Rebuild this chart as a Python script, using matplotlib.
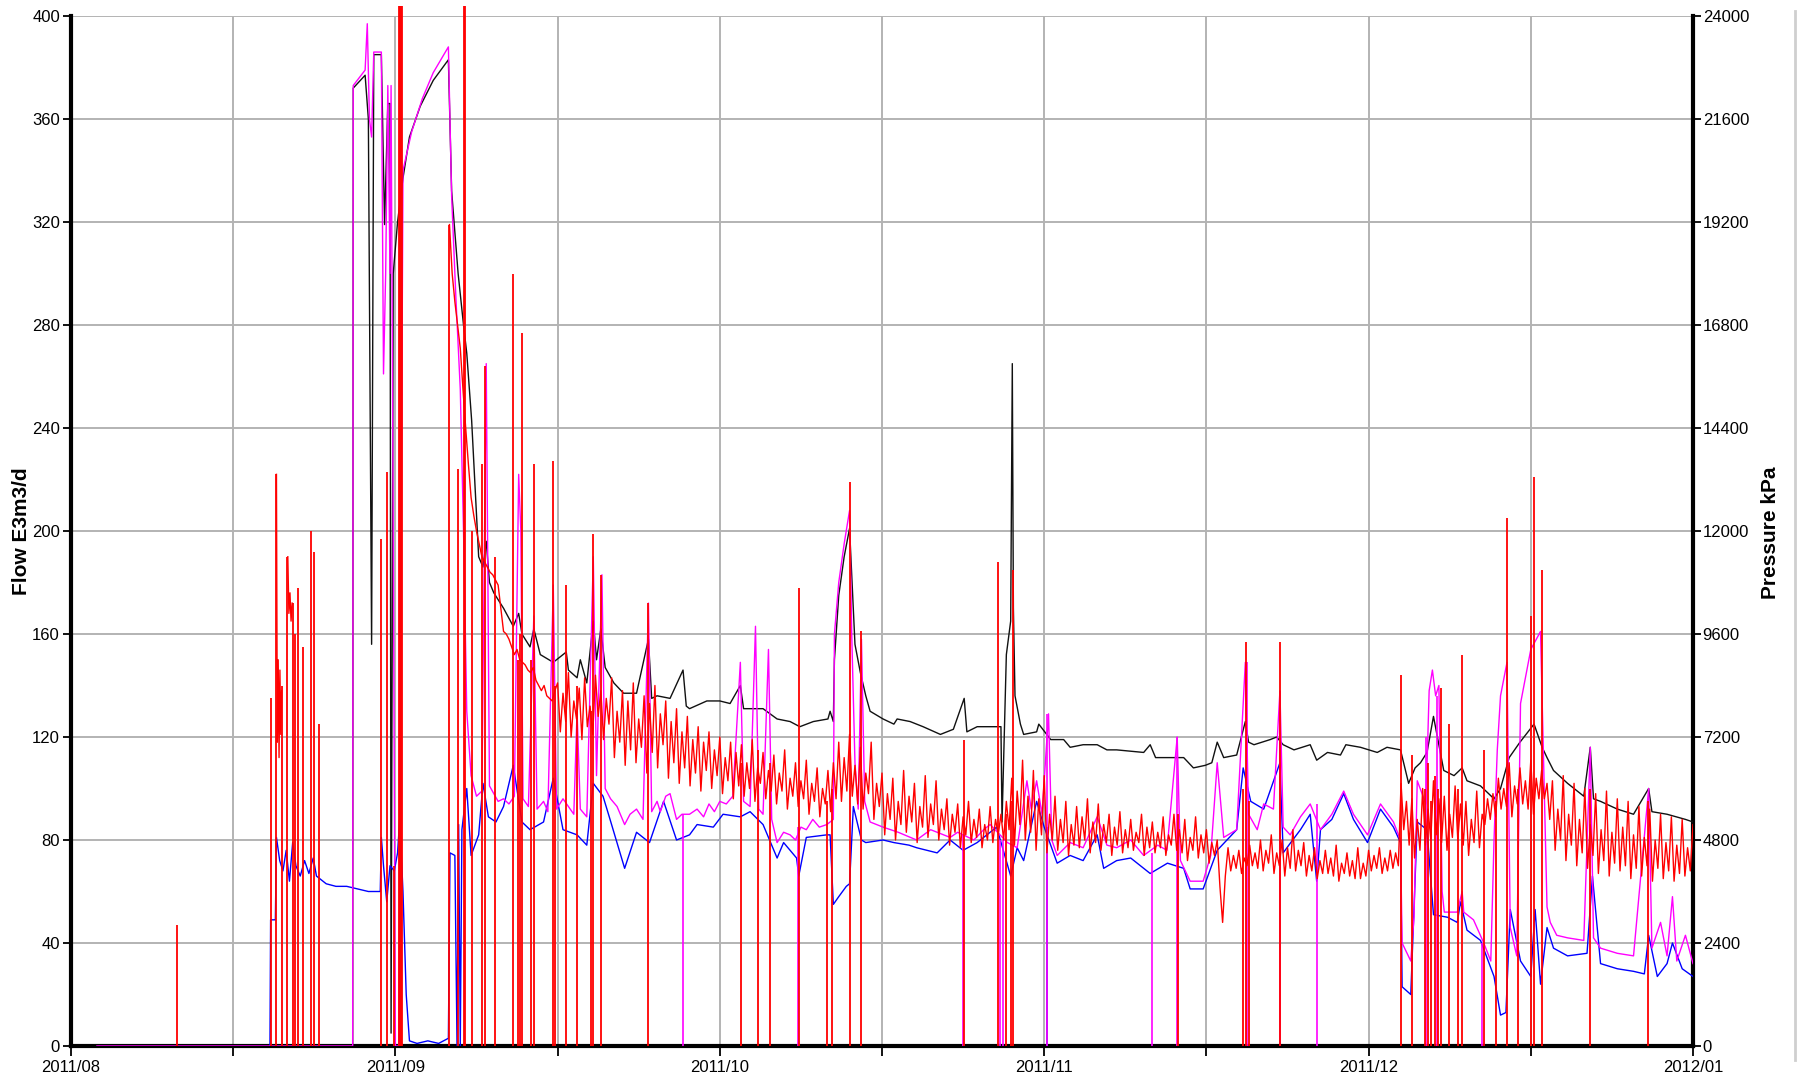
"""Well test history: flow rates (left axis) and pressure (right axis), Aug 2011 - Jan 2012."""

import matplotlib
matplotlib.use("Agg")
import matplotlib.pyplot as plt
from matplotlib.lines import Line2D
import numpy as np

plt.rcParams["font.family"] = ["Liberation Sans", "DejaVu Sans"]

# x axis: days from 2011/08/01, charting tool spaces every month as 30 days
MONTH_TICKS = [0, 30, 60, 90, 120, 150]
MONTH_LABELS = ["2011/08", "2011/09", "2011/10", "2011/11", "2011/12", "2012/01"]
HALF_MONTH_TICKS = [15, 45, 75, 105, 135]

FLOW_TICKS = list(range(0, 401, 40))
PRESSURE_TICKS = list(range(0, 24001, 2400))

# red flow: short bursts before the well came on, then the main record sampled every 6 hours
RED_BURST_X = [19.0, 19.08, 19.16, 19.24, 19.32, 19.4, 19.48, None, 20.05, 20.15, 20.25, 20.35, 20.45]
RED_BURST_Y = [222, 118, 150, 112, 146, 121, 138, None, 190, 168, 176, 165, 172]

RED_START_DAY = 35.0
RED_STEP_DAY = 0.25
RED_FLOW = [
    319, 300, 289, 280, 271, 255, 240, 226, 213, 206, 200, 195, 190, 188, 186, 184, 183, 181, 179, 170,
    161, 160, 158, 155, 152, 154, 150, 149, 148, 146, 145, 147, 142, 140, 138, 140, 136, 135, 134, 138,
    141, 122, 137, 126, 145, 120, 134, 127, 139, 119, 143, 124, 132, 121, 144, 128, 138, 119, 135, 125,
    143, 112, 130, 118, 138, 109, 134, 115, 141, 110, 127, 116, 136, 106, 133, 114, 140, 108, 129, 117,
    134, 104, 126, 110, 131, 102, 122, 108, 128, 101, 119, 106, 124, 99, 118, 107, 122, 100, 115, 105,
    120, 98, 112, 103, 118, 96, 114, 101, 117, 97, 110, 100, 119, 95, 108, 102, 114, 96, 107, 99,
    113, 94, 106, 99, 115, 92, 104, 97, 110, 93, 103, 96, 111, 90, 102, 95, 108, 89, 100, 94,
    107, 91, 110, 96, 118, 95, 112, 99, 121, 97, 109, 94, 116, 92, 106, 98, 118, 88, 102, 93,
    106, 82, 98, 88, 104, 80, 95, 86, 107, 83, 97, 87, 102, 79, 93, 85, 105, 81, 94, 86,
    103, 80, 92, 84, 96, 78, 90, 83, 94, 77, 89, 82, 95, 79, 88, 81, 92, 77, 86, 80,
    93, 79, 88, 82, 90, 80, 95, 84, 104, 78, 99, 86, 111, 80, 97, 83, 107, 76, 96, 82,
    105, 75, 90, 80, 97, 76, 88, 79, 95, 74, 86, 78, 93, 77, 89, 80, 96, 75, 87, 79,
    94, 76, 86, 79, 90, 74, 85, 78, 91, 75, 84, 77, 88, 76, 83, 79, 90, 74, 85, 77,
    87, 75, 83, 77, 89, 74, 82, 78, 90, 76, 84, 75, 88, 72, 81, 76, 89, 73, 82, 75,
    84, 71, 79, 74, 80, 62, 48, 66, 77, 68, 74, 69, 76, 67, 73, 70, 78, 70, 75, 69,
    80, 68, 76, 71, 82, 67, 75, 70, 80, 66, 77, 69, 84, 68, 76, 70, 79, 66, 74, 68,
    77, 65, 72, 67, 76, 67, 73, 66, 78, 64, 71, 67, 75, 66, 72, 65, 77, 65, 71, 66,
    76, 68, 74, 69, 77, 67, 73, 68, 76, 69, 75, 70, 102, 84, 95, 78, 96, 73, 88, 76,
    100, 78, 92, 80, 103, 82, 96, 79, 97, 76, 90, 81, 101, 80, 94, 78, 95, 74, 88, 79,
    99, 77, 90, 86, 96, 88, 98, 89, 104, 92, 100, 93, 110, 89, 101, 94, 108, 94, 103, 92,
    111, 90, 104, 96, 107, 96, 102, 88, 103, 76, 92, 80, 105, 72, 90, 78, 102, 70, 88, 75,
    100, 69, 86, 74, 98, 67, 84, 72, 99, 66, 83, 71, 96, 68, 85, 70, 95, 65, 82, 69,
    93, 66, 81, 70, 92, 64, 80, 69, 90, 65, 79, 68, 89, 64, 78, 67, 88, 66, 77, 68,
    86,
]

# red shut-ins / surges: the trace drops to zero and comes back to this value
RED_SPIKE_DAY = [
    9.8, 18.5, 19.0, 19.5, 20.0, 20.5, 20.7, 21.0, 21.5, 22.2, 22.5, 22.9,
    28.7, 29.2, 29.9, 30.3, 30.4, 30.5, 30.6,
    35.0, 35.8, 36.3, 36.4, 37.1, 38.0, 38.3, 39.2, 40.9, 41.3, 41.5, 41.7,
    42.5, 42.8, 44.6, 44.8, 45.8, 46.8, 48.1, 48.3, 49.0, 53.4,
    62.0, 63.5, 64.6, 67.3, 69.9, 70.4, 72.0, 73.1,
    82.6, 85.7, 86.5, 86.9, 87.1, 102.4, 108.4, 108.7, 108.9, 111.8,
    123.0, 124.0, 125.2, 125.5, 125.8, 126.1, 126.4, 126.7, 127.4, 128.3, 128.65,
    130.65, 131.8, 132.8, 133.8, 135.0, 135.3, 136.0, 140.5, 145.8,
]
RED_SPIKE_TOP = [
    47, 135, 222, 140, 190, 172, 160, 178, 155, 200, 192, 125,
    197, 223, 70, 404, 404, 404, 404,
    319, 224, 404, 404, 200, 226, 264, 190, 300, 150, 160, 277,
    150, 226, 227, 140, 179, 140, 130, 199, 183, 172,
    110, 115, 110, 178, 95, 100, 219, 161,
    119, 188, 90, 95, 185, 90, 100, 157, 95, 157,
    144, 113, 100, 110, 95, 105, 100, 139, 125, 100, 152,
    115, 95, 205, 100, 167, 221, 185, 100, 95,
]

MAGENTA_X = [
    2.4, 26.05, 26.1, 27.2, 27.4, 27.6, 27.8, 28.0, 28.7, 28.9, 29.1, 29.3, 29.5, 29.6, 29.8,
    30.0, 30.3, 30.7, 31.5, 32.5, 33.5, 34.9, 35.2, 35.6, 36.0, 36.3, 36.6, 37.0, 37.5, 38.0,
    38.4, 38.7, 39.5, 40.0, 40.5, 41.0, 41.4, 41.6, 41.8, 42.3, 42.8, 43.1, 43.7, 44.1, 44.6,
    44.9, 45.5, 46.0, 46.5, 46.8, 47.1, 47.7, 48.3, 48.6, 49.1, 49.4, 49.9, 50.5, 51.2, 51.7,
    52.3, 52.9, 53.4, 53.7, 54.2, 54.5, 55.0, 55.4, 56.0, 56.5, 57.2, 57.9, 58.5, 59.0, 59.5,
    60.0, 60.6, 61.2, 61.9, 62.2, 62.8, 63.3, 63.6, 64.0, 64.5, 64.8, 65.3, 65.9, 66.5, 67.0,
    67.5, 68.0, 68.6, 69.2, 69.9, 70.5, 70.6, 71.0, 71.5, 72.0, 72.2, 72.5, 72.8, 73.1, 73.4,
    73.9, 75.1, 76.5, 78.2, 79.5, 81.3, 82.0, 83.5, 84.4, 85.0, 86.6, 87.5, 88.4, 88.8, 89.3,
    89.8, 90.4, 90.7, 91.2, 92.4, 93.6, 94.9, 95.8, 96.7, 98.0, 99.2, 100.5, 101.35, 102.3, 102.6,
    103.5, 104.7, 105.4, 106.0, 106.6, 107.8, 108.6, 108.9, 109.7, 110.3, 111.2, 111.8, 112.1, 112.75, 113.7,
    114.6, 115.55, 116.6, 117.7, 118.6, 119.9, 121.1, 122.3, 122.95, 123.1, 123.9, 124.2, 124.5, 125.3, 125.6,
    125.9, 126.2, 126.5, 126.8, 127.0, 128.2, 128.65, 128.8, 129.7, 130.65, 131.3, 131.6, 131.9, 132.2, 132.8,
    133.1, 133.7, 134.05, 135.0, 135.9, 136.5, 136.8, 137.4, 138.4, 139.9, 140.5, 140.8, 141.45, 143.0, 144.5,
    145.9, 146.2, 147.0, 147.6, 148.1, 148.5, 149.3, 150.0,
]
MAGENTA_Y = [
    0, 0, 373, 379, 397, 360, 353, 386, 386, 261, 300, 373, 300, 373, 200,
    0, 0, 340, 355, 368, 378, 388, 330, 290, 255, 200, 130, 105, 97, 99,
    265, 101, 95, 96, 94, 97, 222, 200, 96, 93, 167, 92, 95, 91, 179,
    92, 96, 93, 90, 130, 92, 89, 190, 105, 183, 100, 96, 93, 86, 90,
    92, 88, 172, 91, 95, 91, 97, 98, 88, 90, 90, 92, 89, 94, 91,
    95, 94, 97, 149, 95, 93, 163, 92, 90, 154, 88, 79, 83, 82, 80,
    85, 84, 88, 85, 86, 88, 160, 180, 195, 208, 160, 110, 92, 158, 95,
    87, 85, 83, 80, 84, 81, 83, 80, 84, 86, 79, 77, 103, 92, 103,
    90, 129, 80, 74, 79, 77, 89, 78, 77, 80, 74, 78, 76, 120, 72,
    64, 64, 74, 110, 81, 84, 149, 90, 84, 94, 92, 138, 85, 82, 89,
    94, 84, 90, 99, 90, 82, 94, 87, 80, 40, 33, 50, 103, 94, 138,
    146, 136, 140, 60, 52, 52, 60, 52, 49, 40, 33, 80, 115, 136, 149,
    46, 35, 133, 154, 161, 54, 48, 43, 42, 41, 116, 42, 38, 36, 35,
    100, 38, 48, 35, 58, 33, 43, 32,
]
MAGENTA_DROP_DAY = [56.6, 67.25, 82.5, 85.9, 86.2, 90.25, 99.96, 102.3, 108.75, 111.8, 115.2, 125.3, 126.3, 130.5]
MAGENTA_DROP_TOP = [90, 85, 82, 80, 80, 129, 75, 120, 149, 138, 94, 120, 136, 40]

BLUE_X = [
    18.4, 18.46, 18.9, 19.0, 19.3, 19.6, 19.9, 20.2, 20.5, 20.8, 21.2, 21.6, 22.0, 22.4, 22.7,
    23.0, 23.6, 24.5, 25.5, 26.5, 27.5, 28.6, 28.7, 28.9, 29.2, 29.5, 29.9, 30.2, 30.4, 30.7,
    31.0, 31.3, 32.0, 33.0, 34.0, 34.9, 35.05, 35.5, 35.7, 35.85, 36.0, 36.15, 36.6, 37.0, 37.7,
    38.1, 38.6, 39.3, 40.0, 40.9, 41.7, 42.45, 43.7, 44.6, 45.5, 46.8, 47.7, 48.3, 49.2, 49.85,
    51.2, 52.3, 53.5, 54.8, 56.0, 57.2, 57.9, 59.4, 60.3, 61.9, 62.8, 64.0, 65.3, 65.9, 67.1,
    67.3, 68.0, 69.9, 70.2, 70.5, 71.0, 71.7, 72.0, 72.35, 73.1, 73.5, 75.1, 76.1, 77.5, 78.2,
    80.1, 81.3, 82.5, 83.8, 85.6, 86.9, 87.5, 88.1, 89.3, 90.0, 91.2, 92.4, 93.6, 94.9, 95.5,
    96.7, 98.0, 99.8, 101.4, 102.9, 103.5, 104.7, 106.0, 107.8, 108.4, 109.1, 110.3, 111.8, 112.1, 112.8,
    113.7, 114.6, 115.2, 115.55, 116.6, 117.7, 118.6, 119.9, 121.1, 122.3, 122.95, 123.1, 123.9, 124.2, 124.5,
    125.4, 126.0, 127.3, 128.2, 128.5, 129.1, 130.35, 131.6, 132.2, 132.7, 133.1, 134.05, 135.0, 135.4, 135.9,
    136.5, 137.1, 138.4, 140.2, 140.7, 141.45, 143.0, 144.5, 145.5, 145.9, 146.7, 147.6, 148.1, 149.0, 150.0,
]
BLUE_Y = [
    0, 49, 49, 81, 72, 68, 76, 64, 79, 70, 66, 72, 67, 73, 66,
    65, 63, 62, 62, 61, 60, 60, 81, 70, 56, 70, 68, 75, 88, 60,
    20, 2, 1, 2, 1, 3, 75, 74, 0, 86, 0, 84, 100, 74, 82,
    102, 89, 87, 93, 109, 87, 84, 87, 104, 84, 82, 78, 102, 97, 88,
    69, 83, 79, 95, 80, 82, 86, 85, 90, 89, 91, 86, 73, 79, 73,
    66, 81, 82, 82, 55, 58, 62, 63, 93, 80, 79, 80, 79, 78, 77,
    75, 80, 76, 79, 85, 66, 77, 72, 95, 85, 71, 74, 72, 82, 69,
    72, 73, 67, 71, 69, 61, 61, 76, 84, 108, 95, 92, 110, 75, 79,
    84, 90, 64, 84, 88, 98, 88, 79, 92, 85, 79, 23, 20, 54, 87,
    84, 51, 50, 48, 56, 45, 41, 27, 12, 13, 53, 33, 27, 53, 24,
    46, 38, 35, 36, 66, 32, 30, 29, 28, 43, 27, 32, 40, 30, 27,
]
BLUE_DROP_DAY = [90.3]
BLUE_DROP_TOP = [85]

# pressure in kPa (right axis)
PRESSURE_X = [
    26.05, 26.1, 27.2, 27.5, 27.8, 28.0, 28.7, 29.0, 29.3, 29.5, 29.6, 29.8, 30.2, 30.7, 31.3,
    32.3, 33.5, 34.9, 35.2, 35.8, 36.3, 36.6, 37.05, 37.7, 38.1, 38.4, 38.7, 39.1, 40.0, 40.9,
    41.4, 41.7, 42.45, 42.8, 43.4, 44.6, 45.8, 46.0, 46.8, 47.1, 47.7, 48.3, 48.6, 49.0, 49.4,
    50.2, 51.1, 52.3, 53.4, 53.7, 54.2, 55.4, 56.6, 56.9, 57.2, 58.8, 60.0, 60.95, 61.9, 62.2,
    62.8, 64.0, 65.3, 66.5, 67.4, 68.65, 70.0, 70.2, 70.5, 70.6, 71.0, 71.5, 72.0, 72.35, 72.5,
    73.0, 73.5, 73.9, 75.1, 76.1, 76.4, 77.6, 78.8, 80.4, 81.6, 82.6, 82.85, 83.8, 85.6, 86.0,
    86.1, 86.5, 86.9, 87.05, 87.15, 87.3, 87.8, 88.1, 89.3, 89.5, 90.6, 91.8, 92.4, 93.6, 94.9,
    95.8, 96.7, 99.2, 99.8, 100.3, 102.9, 103.8, 104.9, 105.5, 106.0, 106.6, 107.8, 108.6, 108.9, 109.4,
    110.9, 111.5, 112.1, 113.1, 114.6, 115.2, 116.2, 117.4, 117.9, 119.25, 120.8, 121.7, 122.95, 123.7, 124.3,
    124.8, 125.4, 126.0, 126.95, 127.9, 128.65, 129.1, 130.35, 131.6, 132.2, 133.0, 134.0, 135.3, 136.05, 136.5,
    137.1, 138.4, 139.9, 140.5, 140.8, 141.45, 143.0, 144.5, 145.9, 146.2, 147.6, 149.3, 150.0,
]
PRESSURE_KPA = [
    0, 22320, 22620, 21600, 9360, 23100, 23100, 19140, 21960, 21960, 300, 18000, 19200, 20220, 21180,
    21900, 22500, 22980, 19920, 18000, 16800, 16140, 14580, 11400, 11160, 11760, 10800, 10560, 10200, 9780,
    10080, 9600, 9300, 9720, 9120, 8940, 9180, 8760, 8580, 9000, 8460, 9900, 9000, 9720, 8820,
    8460, 8220, 8220, 9480, 8100, 8160, 8100, 8760, 7920, 7860, 8040, 8040, 7980, 8400, 7860,
    7860, 7860, 7620, 7560, 7440, 7560, 7620, 7800, 7560, 9000, 10500, 11400, 12060, 10200, 9360,
    8700, 8160, 7800, 7620, 7500, 7620, 7560, 7440, 7260, 7380, 8100, 7320, 7440, 7440, 7440,
    5220, 9120, 9900, 15900, 10200, 8160, 7500, 7260, 7320, 7500, 7140, 7140, 6960, 7020, 7020,
    6900, 6900, 6840, 7020, 6720, 6720, 6480, 6540, 6600, 7080, 6720, 6780, 7560, 7080, 7020,
    7140, 7200, 7020, 6900, 7020, 6660, 6840, 6780, 7020, 6960, 6840, 6960, 6900, 6120, 6480,
    6600, 6840, 7680, 6420, 6300, 6480, 6180, 6060, 5760, 6000, 6720, 7080, 7500, 6960, 6720,
    6420, 6120, 5820, 6960, 5760, 5700, 5520, 5400, 6000, 5460, 5400, 5280, 5220,
]

GRID_COLOR = "#b3b3b3"
LINE_W = 1.0


def as_float(values):
    return np.array([np.nan if v is None else v for v in values], dtype=float)


def main():
    fig = plt.figure(figsize=(17.98, 10.82), dpi=100)
    ax = fig.add_axes([71 / 1798, 1 - 1046 / 1082, (1693 - 71) / 1798, (1046 - 16) / 1082])
    ax2 = ax.twinx()

    # pressure axis underneath so the flow traces sit on top of it
    ax2.set_zorder(ax.get_zorder() - 1)
    ax.patch.set_visible(False)

    ax2.xaxis.set_visible(True)
    ax2.set_xlim(0, 150)
    ax2.set_ylim(0, 24000)
    ax2.set_yticks(PRESSURE_TICKS)
    ax2.set_xticks(MONTH_TICKS)
    ax2.set_xticks(HALF_MONTH_TICKS, minor=True)
    ax2.grid(True, which="both", color=GRID_COLOR, linewidth=1.4)
    ax2.set_axisbelow(True)
    ax2.plot(PRESSURE_X, PRESSURE_KPA, color="#111111", linewidth=LINE_W, zorder=3)

    red_x = RED_START_DAY + RED_STEP_DAY * np.arange(len(RED_FLOW))
    ax.plot(BLUE_X, BLUE_Y, color="#0000ff", linewidth=LINE_W, zorder=3)
    ax.vlines(BLUE_DROP_DAY, 0, BLUE_DROP_TOP, color="#0000ff", linewidth=1.2, zorder=3)
    ax.plot(MAGENTA_X, MAGENTA_Y, color="#ff00ff", linewidth=LINE_W, zorder=4)
    ax.vlines(MAGENTA_DROP_DAY, 0, MAGENTA_DROP_TOP, color="#ff00ff", linewidth=1.2, zorder=4)
    ax.plot(red_x, RED_FLOW, color="#ff0000", linewidth=LINE_W, zorder=5)
    ax.plot(as_float(RED_BURST_X), as_float(RED_BURST_Y), color="#ff0000", linewidth=LINE_W, zorder=5)
    ax.vlines(RED_SPIKE_DAY, 0, RED_SPIKE_TOP, color="#ff0000", linewidth=1.3, zorder=5, clip_on=False)

    ax.set_xlim(0, 150)
    ax.set_ylim(0, 400)
    ax.set_xticks(MONTH_TICKS)
    ax.set_xticklabels(MONTH_LABELS)
    ax.set_xticks(HALF_MONTH_TICKS, minor=True)
    ax.set_yticks(FLOW_TICKS)

    for a in (ax, ax2):
        a.spines["top"].set_visible(False)
    for side in ("left", "bottom"):
        ax.spines[side].set_linewidth(3)
        ax.spines[side].set_color("black")
    ax.spines["right"].set_visible(False)
    ax2.spines["left"].set_visible(False)
    ax2.spines["bottom"].set_visible(False)
    ax2.spines["right"].set_linewidth(3)
    ax2.spines["right"].set_color("black")

    ax.tick_params(axis="both", which="both", direction="out", length=6, width=1.3,
                   labelsize=12, colors="black", pad=2)
    ax.tick_params(axis="x", which="both", length=7, pad=3)
    ax2.tick_params(axis="y", direction="out", length=6, width=1.3, labelsize=12, pad=1)
    ax2.tick_params(axis="x", which="both", length=0, labelbottom=False, labeltop=False)

    fig.text(22 / 1798, 1 - 531 / 1082, "Flow E3m3/d", rotation=90, ha="center", va="center",
             fontsize=15, fontweight="bold")
    fig.text(1770 / 1798, 1 - 533 / 1082, "Pressure kPa", rotation=90, ha="center", va="center",
             fontsize=15, fontweight="bold")

    # faint frame edge on the right of the exported image
    fig.add_artist(Line2D([0.9985, 0.9985], [0.02, 0.99], transform=fig.transFigure,
                          color="#cfcfcf", linewidth=2))

    fig.savefig("out.png", dpi=100)
    plt.close(fig)


if __name__ == "__main__":
    main()
